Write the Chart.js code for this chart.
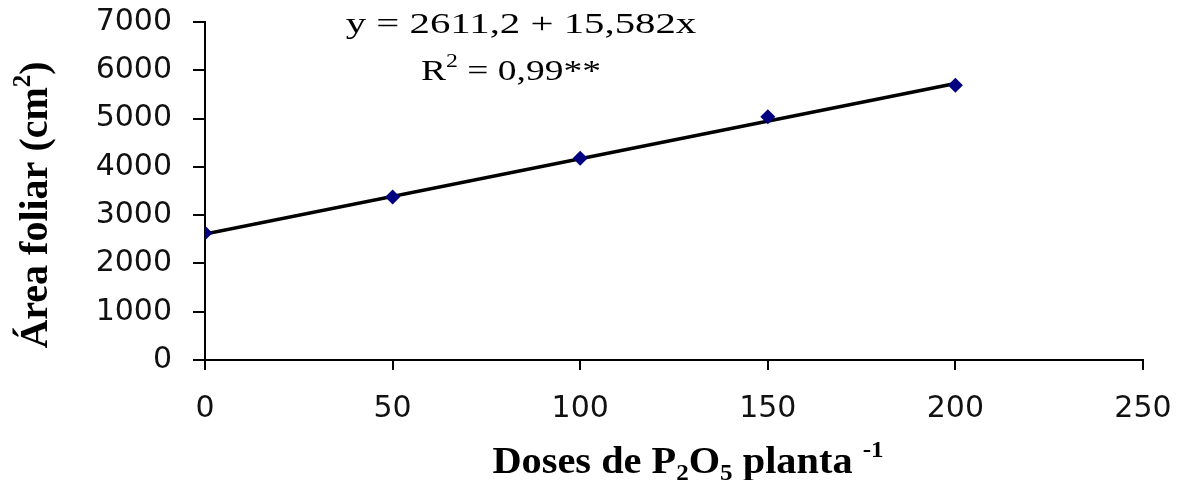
<!DOCTYPE html>
<html>
<head>
<meta charset="utf-8">
<script src="https://cdn.jsdelivr.net/npm/chart.js@4/dist/chart.umd.min.js"></script>
<style>
  html, body { margin: 0; padding: 0; background: #fff; }
  #wrap { width: 1183px; height: 480px; position: relative; }
</style>
</head>
<body>
<div id="wrap"><canvas id="chart"></canvas></div>
<script>
// doses of P2O5 and measured leaf area
const doses = [0, 50, 100, 150, 200]
const leafArea = [2630, 3375, 4180, 5040, 5690]

// fitted line y = 2611,2 + 15,582x, endpoints at 0 and 200
const trendX = [0, 200]
const trendY = [2611.2, 5727.6]

const xTicks = [0, 50, 100, 150, 200, 250]
const yTicks = [0, 1000, 2000, 3000, 4000, 5000, 6000, 7000]

const equation = 'y = 2611,2 + 15,582x'
const rSquared = [{ t: 'R' }, { t: '2', sup: true }, { t: ' = 0,99**' }]
const yTitle = [{ t: 'Área foliar (cm' }, { t: '2', sup: true }, { t: ')' }]
const xTitle = [
  { t: 'Doses de P' }, { t: '2', sub: true }, { t: 'O' }, { t: '5', sub: true },
  { t: ' planta ' }, { t: '-1', sup: true },
]

const SERIF = '"Liberation Serif", "Times New Roman", serif'

function drawRich(ctx, parts, x, y, size, bold, scaleX) {
  const w = bold ? 'bold ' : ''
  const fontFor = p => `${w}${p.sub || p.sup ? Math.round(size * 0.62) : size}px ${SERIF}`
  let total = 0
  parts.forEach(p => {
    ctx.font = fontFor(p)
    total += ctx.measureText(p.t).width
  })
  ctx.save()
  ctx.translate(x, y)
  ctx.scale(scaleX, 1)
  ctx.textAlign = 'left'
  ctx.textBaseline = 'alphabetic'
  ctx.fillStyle = '#000'
  let cx = -total / 2
  parts.forEach(p => {
    ctx.font = fontFor(p)
    let dy = 0
    if (p.sup) dy = -size * 0.42
    if (p.sub) dy = size * 0.18
    ctx.fillText(p.t, cx, dy)
    cx += ctx.measureText(p.t).width
  })
  ctx.restore()
}

const textPlugin = {
  id: 'texts',
  afterDraw(chart) {
    const ctx = chart.ctx
    drawRich(ctx, [{ t: equation }], 521, 33, 30, false, 1.36)
    drawRich(ctx, rSquared, 511, 80, 30, false, 1.25)
    drawRich(ctx, xTitle, 688, 473, 37, true, 1.09)
    ctx.save()
    ctx.translate(47, 205)
    ctx.rotate(-Math.PI / 2)
    drawRich(ctx, yTitle, 0, 0, 40, true, 1)
    ctx.restore()
  },
}

const tickFont = { family: '"DejaVu Sans", Verdana, sans-serif', size: 30 }

new Chart(document.getElementById('chart'), {
  type: 'scatter',
  data: {
    datasets: [
      {
        label: 'Área foliar',
        data: doses.map((d, i) => ({ x: d, y: leafArea[i] })),
        pointStyle: 'rectRot',
        pointRadius: 7.5,
        backgroundColor: '#000080',
        borderColor: '#000080',
        borderWidth: 0,
        order: 0,
      },
      {
        label: 'Linear',
        data: trendX.map((d, i) => ({ x: d, y: trendY[i] })),
        showLine: true,
        pointRadius: 0,
        borderColor: '#000',
        borderWidth: 3.5,
        order: 1,
      },
    ],
  },
  options: {
    responsive: true,
    maintainAspectRatio: false,
    animation: false,
    layout: { padding: { top: 22, right: 40, left: 0, bottom: 0 } },
    plugins: {
      legend: { display: false },
      tooltip: { enabled: false },
    },
    scales: {
      x: {
        type: 'linear',
        min: 0,
        max: 250,
        afterBuildTicks: s => { s.ticks = xTicks.map(v => ({ value: v })) },
        afterFit: s => {
          s.height = 120
          s.paddingLeft = 0
          s.paddingRight = 0
        },
        grid: { drawOnChartArea: false, tickLength: 10, color: '#000', lineWidth: 2 },
        border: { color: '#000', width: 2 },
        ticks: { color: '#111', font: tickFont, padding: 21, maxRotation: 0, callback: v => String(v) },
      },
      y: {
        min: 0,
        max: 7000,
        afterBuildTicks: s => { s.ticks = yTicks.map(v => ({ value: v })) },
        afterFit: s => {
          s.width = 205
          s.paddingTop = 0
          s.paddingBottom = 0
        },
        grid: { drawOnChartArea: false, tickLength: 12, color: '#000', lineWidth: 2 },
        border: { color: '#000', width: 2 },
        ticks: { color: '#111', font: tickFont, padding: 21, callback: v => String(v) },
      },
    },
  },
  plugins: [textPlugin],
})
</script>
</body>
</html>
